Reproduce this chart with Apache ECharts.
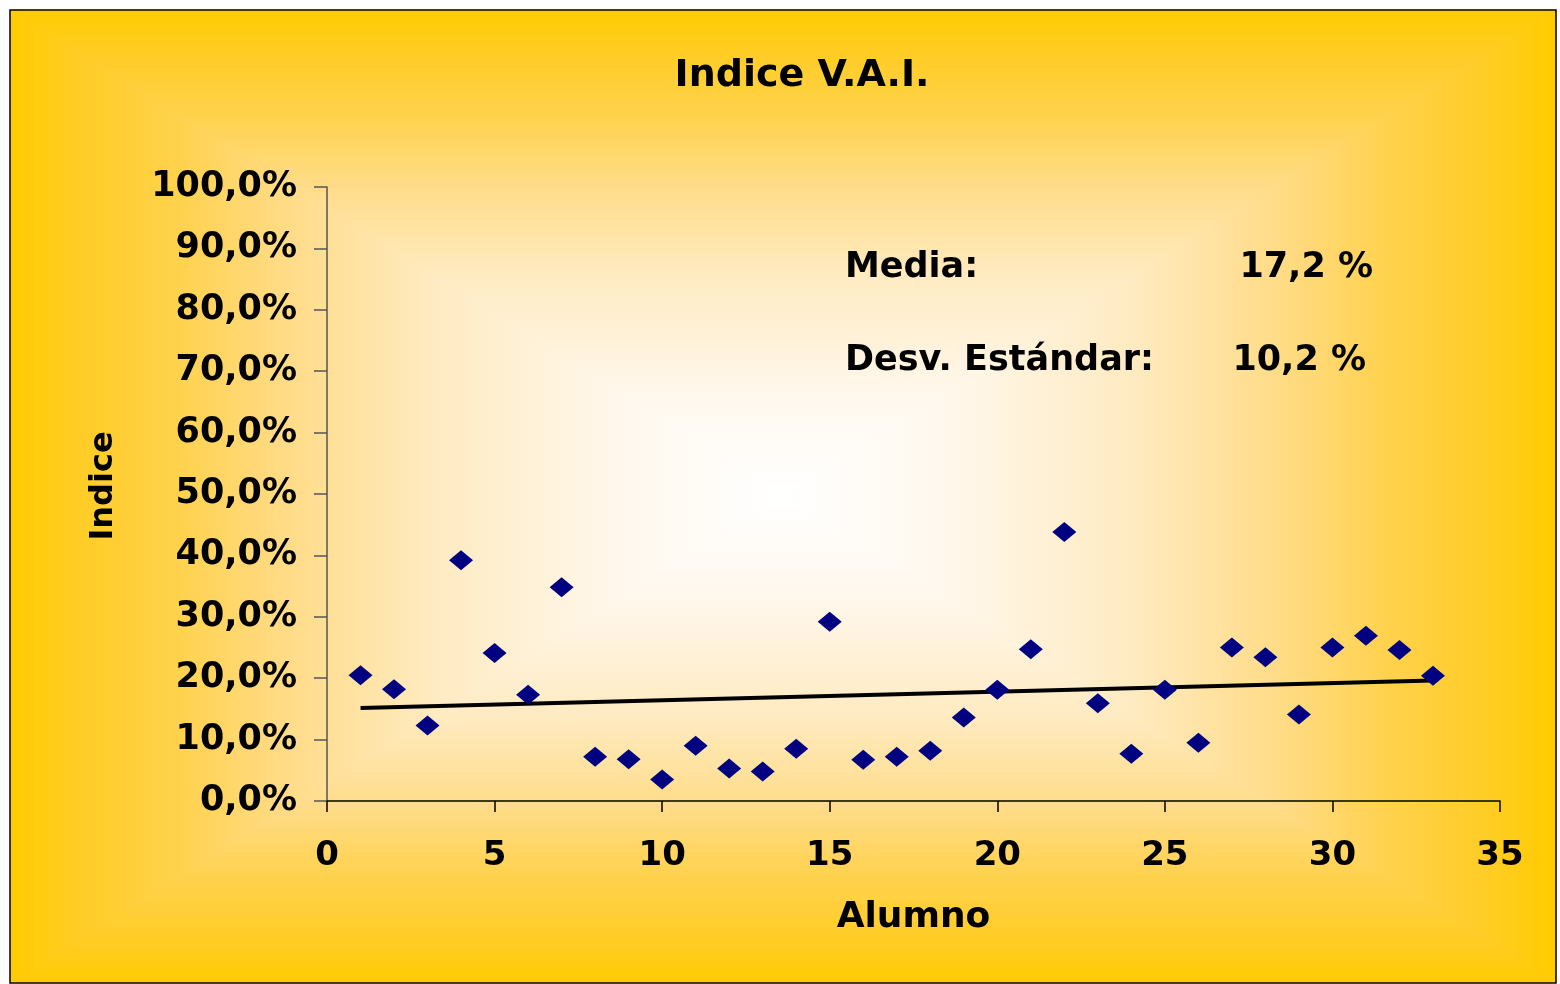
<!DOCTYPE html>
<html>
<head>
<meta charset="utf-8">
<script src="https://cdn.jsdelivr.net/npm/echarts@6/dist/echarts.min.js"></script>
<style>
html,body{margin:0;padding:0;background:#fff;}
#c{width:1560px;height:984px;}
</style>
</head>
<body>
<div id="c"></div>
<script>
// ---- data ----
const alumnos = [1,2,3,4,5,6,7,8,9,10,11,12,13,14,15,16,17,18,19,20,21,22,23,24,25,26,27,28,29,30,31,32,33];
const indice = [20.5,18.2,12.3,39.2,24.1,17.3,34.8,7.2,6.8,3.5,9.0,5.3,4.8,8.5,29.2,6.7,7.2,8.2,13.6,18.1,24.7,43.8,15.9,7.7,18.1,9.5,25.0,23.4,14.1,25.0,26.9,24.6,20.4];
const yTicks = [0,10,20,30,40,50,60,70,80,90,100];
const titleText = 'Indice V.A.I.';
const xName = 'Alumno';
const yName = 'Indice';
const statLabels = ['Media:', 'Desv. Estándar:'];
const statValues = ['17,2 %', '10,2 %'];

// linear trend (least squares) computed from the data
const n = alumnos.length;
const mx = alumnos.reduce((a,b)=>a+b,0)/n;
const my = indice.reduce((a,b)=>a+b,0)/n;
let sxy=0, sxx=0;
for(let i=0;i<n;i++){ sxy += (alumnos[i]-mx)*(indice[i]-my); sxx += (alumnos[i]-mx)**2; }
const slope = sxy/sxx, icpt = my - slope*mx;
const xFirst = alumnos[0], xLast = alumnos[n-1];
const trend = [[xFirst, icpt+slope*xFirst],[xLast, icpt+slope*xLast]];

// ---- background (rectangular from-centre gradient) ----
const L=10,T=10,R=1556,B=983,CX=783,CY=496;
const stops = [
  {offset:0,color:'#FFFFFF'},
  {offset:0.2,color:'#FFF8EE'},
  {offset:0.45,color:'#FFEBC2'},
  {offset:0.65,color:'#FFDB84'},
  {offset:0.78,color:'#FFD24E'},
  {offset:0.92,color:'#FFCC22'},
  {offset:1,color:'#FFCC00'}
];
function lg(x,y,x2,y2){return {type:'linear',x:x,y:y,x2:x2,y2:y2,colorStops:stops};}
const halfDiag = Math.sqrt((CX-L)*(CX-L)+(CY-T)*(CY-T));
const bg = [
  {type:'rect',z:-10,silent:true,shape:{x:L,y:T,width:R-L,height:B-T},
    style:{fill:{type:'radial',x:CX,y:CY,r:halfDiag,global:true,colorStops:stops}}},
  {type:'polygon',z:-9,silent:true,shape:{points:[[L,T],[R,T],[CX,CY]]},style:{fill:lg(0,1,0,0),stroke:null}},
  {type:'polygon',z:-9,silent:true,shape:{points:[[L,B],[R,B],[CX,CY]]},style:{fill:lg(0,0,0,1),stroke:null}},
  {type:'polygon',z:-9,silent:true,shape:{points:[[L,T],[L,B],[CX,CY]]},style:{fill:lg(1,0,0,0),stroke:null}},
  {type:'polygon',z:-9,silent:true,shape:{points:[[R,T],[R,B],[CX,CY]]},style:{fill:lg(0,0,1,0),stroke:null}},
  {type:'rect',z:-8,silent:true,shape:{x:L,y:T,width:R-L,height:B-T},style:{fill:null,stroke:'#000',lineWidth:1.5}}
];
const F = 'DejaVu Sans, Verdana, sans-serif';
const textFont = {fontFamily:F,fontWeight:'bold',fontSize:35,fill:'#000'};
const statText = [
  {type:'text',left:845,top:250,style:Object.assign({text:statLabels[0]},textFont)},
  {type:'text',left:845,top:343,style:Object.assign({text:statLabels[1]},textFont)},
  {type:'text',right:1560-1373,top:250,style:Object.assign({text:statValues[0],textAlign:'right'},textFont)},
  {type:'text',right:1560-1366,top:343,style:Object.assign({text:statValues[1],textAlign:'right'},textFont)}
];

const chart = echarts.init(document.getElementById('c'));
chart.setOption({
  backgroundColor:'#fff',
  animation:false,
  title:{text:titleText,left:797,top:52,textAlign:'center',
    textStyle:{fontFamily:F,fontWeight:'bold',fontSize:38,color:'#000'}},
  graphic: bg.concat(statText),
  grid:{left:327,right:60,top:187,bottom:183,containLabel:false},
  xAxis:{type:'value',min:0,max:35,interval:5,
    name:xName,nameLocation:'middle',nameGap:99,
    nameTextStyle:{fontFamily:F,fontWeight:'bold',fontSize:36,color:'#000'},
    axisLine:{show:true,onZero:false,lineStyle:{color:'#000',width:1.5}},
    axisTick:{show:true,inside:false,length:11,lineStyle:{color:'#000',width:1.5}},
    axisLabel:{margin:38,fontFamily:F,fontWeight:'bold',fontSize:34,color:'#000'},
    splitLine:{show:false}},
  yAxis:{type:'value',min:yTicks[0],max:yTicks[yTicks.length-1],interval:yTicks[1]-yTicks[0],
    name:yName,nameLocation:'middle',nameGap:207,nameRotate:90,
    nameTextStyle:{fontFamily:F,fontWeight:'bold',fontSize:32,color:'#000',padding:[0,0,0,16]},
    axisLine:{show:true,onZero:false,lineStyle:{color:'#555',width:1.5}},
    axisTick:{show:true,inside:false,length:13,lineStyle:{color:'#555',width:1.5}},
    axisLabel:{margin:30,fontFamily:F,fontWeight:'bold',fontSize:35,color:'#000',
      formatter:v=>v.toFixed(1).replace('.',',')+'%'},
    splitLine:{show:false}},
  series:[
    {type:'line',data:trend,symbol:'none',z:2,
      lineStyle:{color:'#000',width:4},silent:true},
    {type:'scatter',data:alumnos.map((x,i)=>[x,indice[i]]),symbol:'diamond',symbolSize:[24,20],z:3,
      itemStyle:{color:'#000080',opacity:1}}
  ]
});
</script>
</body>
</html>
